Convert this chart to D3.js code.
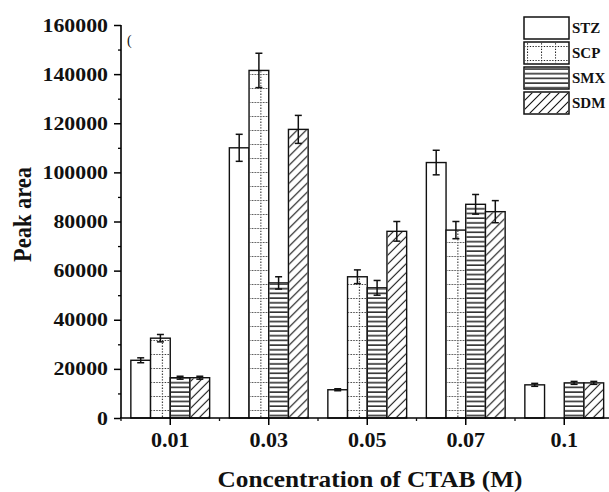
<!DOCTYPE html>
<meta charset="utf-8">
<script src="https://cdn.jsdelivr.net/npm/d3@7"></script>
<style>
  body { margin: 0; background: #fff; }
  text { font-family: "Liberation Serif", "Times New Roman", serif; font-weight: bold; fill: #111; }
</style>
<body>
<script>

    var concentrations = ["0.01", "0.03", "0.05", "0.07", "0.1"];
    var series = ["STZ", "SCP", "SMX", "SDM"];
    // peak area per concentration, one array per series
    var stz = [23500, 110000, 11500, 104000, 13500];
    var scp = [32500, 141500, 57500, 76500, 0];
    var smx = [16400, 55000, 53000, 87000, 14300];
    var sdm = [16400, 117500, 76000, 84000, 14300];
    // error bar half widths
    var stzErr = [1000, 5500, 400, 5000, 600];
    var scpErr = [1500, 7000, 2800, 3500, 0];
    var smxErr = [600, 2500, 3000, 4000, 600];
    var sdmErr = [600, 5700, 4000, 4500, 600];
    var yTicks = [0, 20000, 40000, 60000, 80000, 100000, 120000, 140000, 160000];

    var values = { STZ: stz, SCP: scp, SMX: smx, SDM: sdm };
    var errors = { STZ: stzErr, SCP: scpErr, SMX: smxErr, SDM: sdmErr };

    var width = 609, height = 492;
    var mLeft = 121, mRight = 613.5, mTop = 25, mBottom = 418;

    var svg = d3.select("body").append("svg")
        .attr("width", width)
        .attr("height", height);

    var defs = svg.append("defs");

    // SCP: dotted grid
    var p1 = defs.append("pattern")
        .attr("id", "pat-SCP")
        .attr("patternUnits", "userSpaceOnUse")
        .attr("width", 14).attr("height", 14)
        .attr("x", 3).attr("y", 4);
    p1.append("path").attr("d", "M0,0.5H14M0.5,0V14")
        .attr("stroke", "#222").attr("stroke-width", 1.1)
        .attr("stroke-dasharray", "1.3,1.5").attr("fill", "none");

    // SMX: horizontal lines
    var p2 = defs.append("pattern")
        .attr("id", "pat-SMX")
        .attr("patternUnits", "userSpaceOnUse")
        .attr("width", 8).attr("height", 4.7);
    p2.append("path").attr("d", "M0,2H8")
        .attr("stroke", "#111").attr("stroke-width", 1.4);

    // SDM: forward diagonal lines
    var p3 = defs.append("pattern")
        .attr("id", "pat-SDM")
        .attr("patternUnits", "userSpaceOnUse")
        .attr("width", 9).attr("height", 9);
    p3.append("path").attr("d", "M-2,11L11,-2M-2,2L2,-2M7,11L11,7")
        .attr("stroke", "#111").attr("stroke-width", 1.1);

    var fills = { STZ: "#fff", SCP: "url(#pat-SCP)", SMX: "url(#pat-SMX)", SDM: "url(#pat-SDM)" };

    var x = d3.scaleBand()
        .domain(concentrations)
        .range([mLeft, mRight])
        .paddingInner(0.2)
        .paddingOuter(0.1);

    var xs = d3.scaleBand()
        .domain(series)
        .range([0, x.bandwidth()]);

    var y = d3.scaleLinear()
        .domain([0, 160000])
        .range([mBottom, mTop]);

    // bars
    var groups = svg.append("g").selectAll("g")
        .data(concentrations)
      .enter().append("g")
        .attr("transform", function(d) { return "translate(" + x(d) + ",0)"; });

    function rows(d, i) {
      return series.map(function(s) { return { s: s, v: values[s][i], e: errors[s][i] }; })
          .filter(function(o) { return o.v > 0; });
    }

    groups.selectAll("rect.bar")
        .data(rows)
      .enter().append("rect")
        .attr("class", "bar")
        .attr("x", function(d) { return xs(d.s); })
        .attr("width", xs.bandwidth())
        .attr("y", function(d) { return y(d.v); })
        .attr("height", function(d) { return mBottom - y(d.v); })
        .attr("fill", "#fff")
        .attr("stroke", "#111")
        .attr("stroke-width", 1.4);

    groups.selectAll("rect.pat")
        .data(function(d, i) { return rows(d, i).filter(function(o) { return o.s != "STZ"; }); })
      .enter().append("rect")
        .attr("class", "pat")
        .attr("x", function(d) { return xs(d.s) + 0.7; })
        .attr("width", xs.bandwidth() - 1.4)
        .attr("y", function(d) { return y(d.v) + 0.7; })
        .attr("height", function(d) { return mBottom - y(d.v) - 1.4; })
        .attr("fill", function(d) { return fills[d.s]; });

    // error bars
    var eb = groups.selectAll("g.err")
        .data(rows)
      .enter().append("g")
        .attr("class", "err")
        .attr("stroke", "#111")
        .attr("stroke-width", 1.5);

    eb.append("line")
        .attr("x1", function(d) { return xs(d.s) + xs.bandwidth() / 2; })
        .attr("x2", function(d) { return xs(d.s) + xs.bandwidth() / 2; })
        .attr("y1", function(d) { return y(d.v + d.e); })
        .attr("y2", function(d) { return y(d.v - d.e); });

    [1, -1].forEach(function(sign) {
      eb.append("line")
          .attr("x1", function(d) { return xs(d.s) + xs.bandwidth() / 2 - 3.5; })
          .attr("x2", function(d) { return xs(d.s) + xs.bandwidth() / 2 + 3.5; })
          .attr("y1", function(d) { return y(d.v + sign * d.e); })
          .attr("y2", function(d) { return y(d.v + sign * d.e); });
    });

    // y axis
    var yAxis = svg.append("g")
        .attr("transform", "translate(" + mLeft + ",0)")
        .call(d3.axisLeft(y).tickValues(yTicks).tickSize(7).tickPadding(5).tickFormat(d3.format("d")));
    yAxis.selectAll(".tick line").attr("stroke-width", 1.5);
    yAxis.select(".domain").attr("d", "M0," + mTop + "V" + mBottom).attr("stroke-width", 1.6);
    yAxis.selectAll("text")
        .style("font-size", "19px")
        .attr("fill", "#111")
        .attr("x", 0)
        .attr("transform", "translate(-13,0) scale(1.15,1)");

    svg.append("g")
        .attr("transform", "translate(" + mLeft + ",0)")
        .call(d3.axisLeft(y).tickValues(d3.range(10000, 160000, 20000)).tickSize(3).tickFormat(""))
        .call(function(g) { g.select(".domain").remove(); })
        .selectAll("line").attr("stroke-width", 1.3);

    // x axis
    var xAxis = svg.append("g")
        .attr("transform", "translate(0," + mBottom + ")")
        .call(d3.axisBottom(x).tickSize(7).tickPadding(7));
    xAxis.select(".domain").attr("d", "M" + (mLeft - 1) + ",0H" + width).attr("stroke-width", 1.6);
    xAxis.selectAll(".tick line").attr("stroke-width", 1.5);
    xAxis.selectAll("text")
        .style("font-size", "21px")
        .attr("fill", "#111")
        .attr("transform", "scale(1.05,1)");

    svg.append("g")
        .attr("stroke", "#111")
        .attr("stroke-width", 1.3)
        .selectAll("line")
        .data(concentrations)
      .enter().append("line")
        .attr("x1", function(d) { return x(d) - x.step() * x.paddingInner() / 2; })
        .attr("x2", function(d) { return x(d) - x.step() * x.paddingInner() / 2; })
        .attr("y1", mBottom)
        .attr("y2", mBottom + 3);

    // axis titles
    svg.append("text")
        .attr("transform", "translate(31,214.5) scale(1.12,1) rotate(-90)")
        .attr("text-anchor", "middle")
        .style("font-size", "22.5px")
        .text("Peak area");

    svg.append("text")
        .attr("transform", "translate(370,487) scale(1.1,1)")
        .attr("text-anchor", "middle")
        .style("font-size", "23px")
        .text("Concentration of CTAB (M)");

    // small stray mark near the top of the plot
    svg.append("text")
        .attr("x", 127)
        .attr("y", 45)
        .style("font-size", "14px")
        .style("font-weight", "normal")
        .attr("fill", "#aaa")
        .text("(");

    // legend
    var legend = svg.append("g").selectAll("g")
        .data(series)
      .enter().append("g")
        .attr("transform", function(d, i) { return "translate(524," + (17 + i * 25) + ")"; });

    legend.append("rect")
        .attr("width", 45)
        .attr("height", 22)
        .attr("fill", "#fff")
        .attr("stroke", "#111")
        .attr("stroke-width", 1.5);

    legend.filter(function(d) { return d != "STZ"; })
      .append("rect")
        .attr("x", 0.8).attr("y", 0.8)
        .attr("width", 43.4)
        .attr("height", 20.4)
        .attr("fill", function(d) { return fills[d]; });

    legend.append("text")
        .attr("x", 48)
        .attr("y", 16)
        .style("font-size", "15px")
        .text(function(d) { return d; });

</script>
</body>
